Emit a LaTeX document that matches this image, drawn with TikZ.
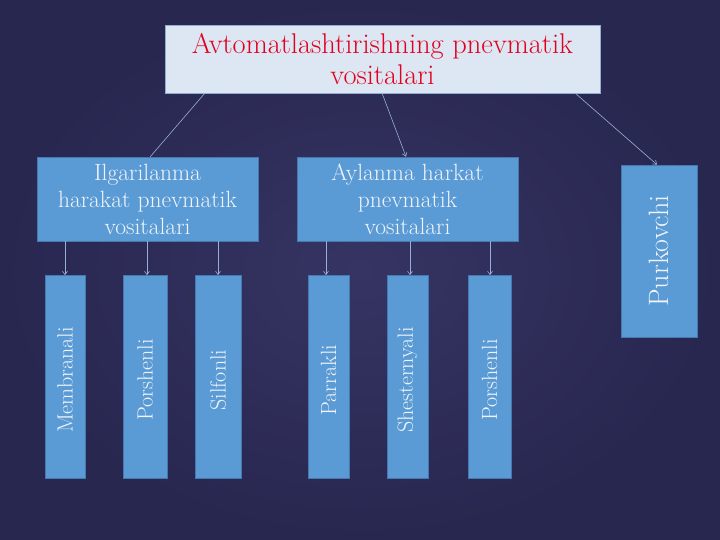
\documentclass[tikz,border=0pt]{standalone}
\usetikzlibrary{arrows.meta}
\definecolor{bgin}{RGB}{54,52,98}
\definecolor{bgout}{RGB}{40,39,80}
\definecolor{barblue}{RGB}{91,155,213}
\definecolor{barline}{RGB}{70,120,175}
\definecolor{topfill}{RGB}{221,231,243}
\definecolor{topred}{RGB}{226,0,30}
\definecolor{txtwhite}{RGB}{240,244,250}
\definecolor{conn}{RGB}{150,175,215}
\tikzset{
  bluebox/.style={draw=barline, line width=0.6pt, fill=barblue, text=txtwhite, inner sep=0pt},
  conline/.style={draw=conn, line width=0.6pt},
  conarrow/.style={conline, -{Straight Barb[length=3.5pt,width=5pt]}},
}
\begin{document}
\begin{tikzpicture}[x=1pt,y=-1pt]
\useasboundingbox (0,0) rectangle (720,540);
\shade[inner color=bgin, outer color=bgout] (0,0) rectangle (720,540);
% top box
\node[draw=barline!60, line width=0.6pt, fill=topfill, text=topred, inner sep=0pt,
      minimum width=435pt, minimum height=68pt, align=center,
      font=\fontsize{28.5}{31}\selectfont] (top) at (382.5,59)
      {Avtomatlashtirishning pnevmatik\\vositalari};
% second level
\node[bluebox, minimum width=221pt, minimum height=84pt, align=center,
      font=\fontsize{23.5}{27}\selectfont] (ilg) at (147.5,199)
      {Ilgarilanma\\harakat pnevmatik\\vositalari};
\node[bluebox, minimum width=221pt, minimum height=84pt, align=center,
      font=\fontsize{23.5}{27}\selectfont] (ayl) at (407.5,199)
      {Aylanma harkat\\pnevmatik\\vositalari};
\node[bluebox, minimum width=76pt, minimum height=172pt] (pur) at (659,251) {};
\node[rotate=90, text=txtwhite, font=\fontsize{28}{30}\selectfont] at (pur.center) {Purkovchi};
% bars
\foreach \n/\xa/\xb/\t in {mem/45/85/Membranali, por/123/167/Porshenli, sil/195/241/Silfonli,
                          par/308/349/Parrakli, she/387/428/Shesternyali, porb/468/511/Porshenli}{
  \node[bluebox, minimum width={\xb-\xa}, minimum height=203pt] (\n) at ({(\xa+\xb)/2},377) {};
  \node[rotate=90, text=txtwhite, font=\fontsize{22}{24}\selectfont] at ({(\xa+\xb)/2},380) {\t};
}
% connectors
\coordinate (t1) at (205,93);
\coordinate (t2) at (382,93);
\coordinate (t3) at (575,93);
\draw[conline] (t1) -- (150,157);
\draw[conarrow] (t2) -- (ayl.north -| 406,0);
\draw[conarrow] (t3) -- (pur.north -| 657,0);
\foreach \src/\dst/\x in {ilg/mem/65, ilg/por/147, ilg/sil/218, ayl/par/326, ayl/she/410, ayl/porb/490}{
  \draw[conarrow] (\src.south -| \x,0) -- (\dst.north -| \x,0);
}
\end{tikzpicture}
\end{document}
